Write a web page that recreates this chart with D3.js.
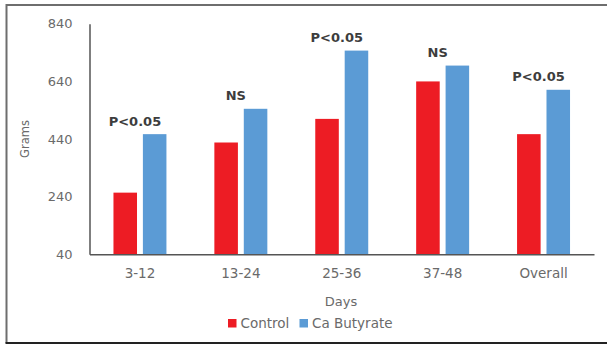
<!DOCTYPE html>
<html>
<head>
<meta charset="utf-8">
<script src="https://cdn.jsdelivr.net/npm/d3@7"></script>
<style>
  html, body { margin: 0; padding: 0; background: #fff; }
  svg { display: block; }
  text { font-family: "DejaVu Sans", Verdana, sans-serif; }
</style>
</head>
<body>
<svg id="chart" width="607" height="345"></svg>
<script>
// Weight gain (grams) by period of days
const categories = ["3-12", "13-24", "25-36", "37-48", "Overall"];
const seriesNames = ["Control", "Ca Butyrate"];
const controlValues = [254, 428, 510, 640, 457];
const butyrateValues = [457, 545, 747, 695, 611];
const significance = ["P<0.05", "NS", "P<0.05", "NS", "P<0.05"];
const yTicks = [40, 240, 440, 640, 840];
const colors = ["#ED1C24", "#5B9BD5"];

const svg = d3.select("#chart");
const plot = { left: 89.5, right: 594, top: 23.8, bottom: 254.3 };

// Frame: top and left in grey, bottom darker, open on the right
svg.append("path")
  .attr("d", "M607,5 L6.5,5 L6.5,343")
  .attr("fill", "none").attr("stroke", "#6e6e6e").attr("stroke-width", 2);
svg.append("line")
  .attr("x1", 5.5).attr("x2", 607).attr("y1", 343).attr("y2", 343)
  .attr("stroke", "#222").attr("stroke-width", 2);

const x = d3.scaleBand()
  .domain(categories)
  .range([plot.left, plot.right])
  .paddingInner(0.475)
  .paddingOuter(0.2375);

const xInner = d3.scaleBand()
  .domain(seriesNames)
  .range([0, x.bandwidth()])
  .paddingInner(0.2)
  .paddingOuter(0);

const y = d3.scaleLinear()
  .domain([40, 840])
  .range([plot.bottom, plot.top]);

const color = d3.scaleOrdinal().domain(seriesNames).range(colors);

const rows = categories.map((c, i) => ({
  category: c,
  values: [
    { series: seriesNames[0], value: controlValues[i] },
    { series: seriesNames[1], value: butyrateValues[i] }
  ],
  label: significance[i]
}));

// Bars
const groups = svg.append("g").selectAll("g")
  .data(rows).join("g")
  .attr("transform", d => `translate(${x(d.category)},0)`);

groups.selectAll("rect")
  .data(d => d.values).join("rect")
  .attr("x", d => xInner(d.series))
  .attr("y", d => y(d.value))
  .attr("width", xInner.bandwidth())
  .attr("height", d => y(40) - y(d.value))
  .attr("fill", d => color(d.series));

// Significance labels above each pair
svg.append("g").selectAll("text")
  .data(rows).join("text")
  .attr("x", d => x(d.category) + x.bandwidth() / 2 - 5)
  .attr("y", d => y(d3.max(d.values, v => v.value)) - 12)
  .attr("text-anchor", "middle")
  .attr("dominant-baseline", "middle")
  .attr("font-size", 13)
  .attr("font-weight", "bold")
  .attr("fill", "#3d3d3d")
  .text(d => d.label);

// Y axis
const yAxis = d3.axisLeft(y).tickValues(yTicks).tickSize(0).tickPadding(17);
const gy = svg.append("g")
  .attr("transform", `translate(${plot.left},0)`)
  .call(yAxis);
gy.select(".domain").attr("stroke", "#555").attr("stroke-width", 1.5);
gy.selectAll("text")
  .attr("font-family", "DejaVu Sans, sans-serif")
  .attr("font-size", 13)
  .attr("fill", "#6a6a6a");

// X axis
const xAxis = d3.axisBottom(x).tickSize(0).tickPadding(14);
const gx = svg.append("g")
  .attr("transform", `translate(0,${plot.bottom})`)
  .call(xAxis);
gx.select(".domain").attr("stroke", "#555").attr("stroke-width", 1.5);
gx.selectAll("text")
  .attr("font-family", "DejaVu Sans, sans-serif")
  .attr("font-size", 13.5)
  .attr("fill", "#6a6a6a");

// Axis titles
svg.append("text")
  .attr("transform", "translate(25.5,139) rotate(-90)")
  .attr("text-anchor", "middle")
  .attr("dominant-baseline", "middle")
  .attr("font-size", 11.5)
  .attr("fill", "#6a6a6a")
  .text("Grams");

svg.append("text")
  .attr("x", 341).attr("y", 302)
  .attr("text-anchor", "middle")
  .attr("dominant-baseline", "middle")
  .attr("font-size", 13)
  .attr("fill", "#6a6a6a")
  .text("Days");

// Legend
const legendItems = [
  { name: seriesNames[0], x: 228 },
  { name: seriesNames[1], x: 299.5 }
];
const legend = svg.append("g").selectAll("g")
  .data(legendItems).join("g")
  .attr("transform", d => `translate(${d.x},323.5)`);
legend.append("rect")
  .attr("x", 0).attr("y", -4.5)
  .attr("width", 8.5).attr("height", 8.5)
  .attr("fill", d => color(d.name));
legend.append("text")
  .attr("x", 12.5).attr("y", 0)
  .attr("dominant-baseline", "middle")
  .attr("font-size", 13.5)
  .attr("fill", "#6a6a6a")
  .text(d => d.name);
</script>
</body>
</html>
